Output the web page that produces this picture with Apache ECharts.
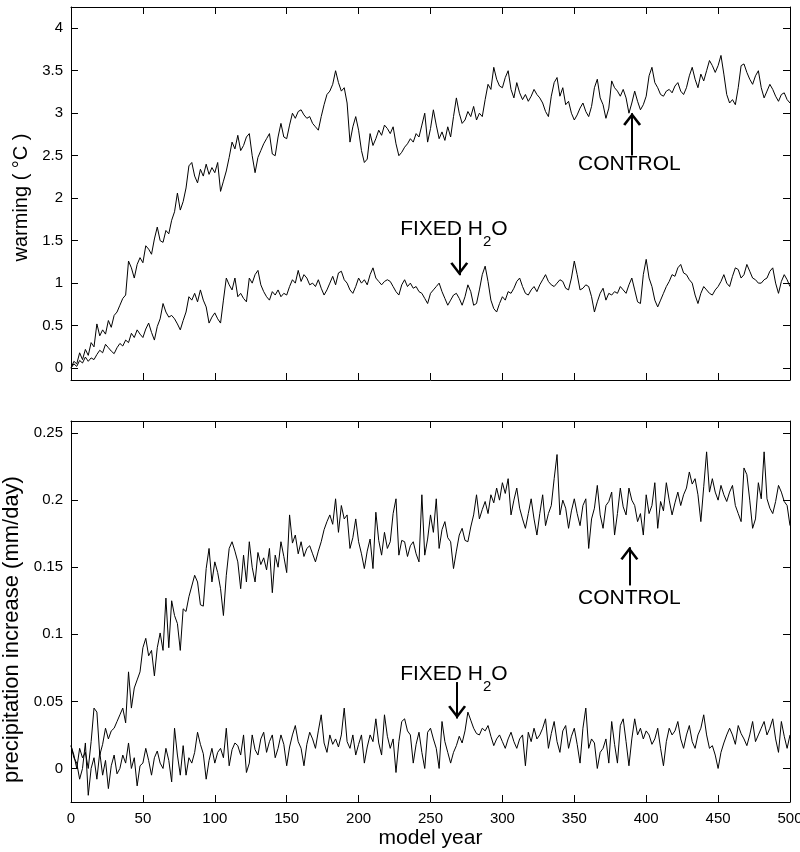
<!DOCTYPE html>
<html><head><meta charset="utf-8">
<script src="https://cdn.jsdelivr.net/npm/echarts@6/dist/echarts.min.js"></script>
<style>html,body{margin:0;padding:0;background:#fff}#c{width:800px;height:852px}</style>
</head><body><div id="c"></div>
<script>
// ---- data (one value every 2 model years, year 0..500) ----
const yearStep = 2;
const yearTicks = [0,50,100,150,200,250,300,350,400,450,500];
const warmTicks = [0,0.5,1,1.5,2,2.5,3,3.5,4];
const precipTicks = [0,0.05,0.1,0.15,0.2,0.25];

const warmControl = [
0.00,0.08,0.05,0.18,0.10,0.22,0.15,0.30,0.25,0.52,
0.38,0.45,0.40,0.56,0.48,0.62,0.66,0.74,0.82,0.86,
1.26,1.18,1.06,1.22,1.30,1.24,1.44,1.40,1.34,1.52,
1.66,1.50,1.48,1.62,1.58,1.74,1.84,2.06,1.86,1.96,
2.12,2.38,2.42,2.26,2.18,2.34,2.26,2.40,2.28,2.36,
2.30,2.42,2.08,2.20,2.32,2.48,2.66,2.58,2.74,2.56,
2.62,2.72,2.76,2.50,2.30,2.48,2.56,2.64,2.70,2.76,
2.52,2.50,2.72,2.88,2.72,2.70,2.86,3.00,2.94,3.02,
3.04,2.98,2.94,2.96,2.88,2.84,2.80,2.96,3.10,3.22,
3.26,3.34,3.50,3.36,3.26,3.30,3.12,2.66,2.84,2.96,
2.80,2.56,2.42,2.46,2.76,2.62,2.70,2.80,2.74,2.86,
2.82,2.76,2.84,2.64,2.50,2.54,2.60,2.64,2.70,2.66,
2.76,2.72,2.86,3.00,2.66,2.82,3.04,2.86,2.70,2.78,
2.68,2.84,2.72,2.96,3.18,3.00,2.88,2.92,3.02,2.96,
3.08,2.92,3.00,2.96,3.16,3.34,3.28,3.54,3.40,3.32,
3.30,3.42,3.50,3.28,3.18,3.36,3.24,3.16,3.22,3.14,
3.20,3.28,3.22,3.18,3.12,3.02,2.96,3.20,3.36,3.42,
3.20,3.30,3.10,3.14,3.00,2.92,2.98,3.06,3.12,3.02,
2.96,3.08,3.30,3.40,3.18,3.10,2.94,3.06,3.38,3.30,
3.26,3.20,3.28,3.18,3.00,3.12,3.26,3.14,3.04,3.10,
3.20,3.44,3.54,3.36,3.30,3.22,3.20,3.26,3.28,3.24,
3.32,3.36,3.26,3.22,3.30,3.44,3.54,3.40,3.30,3.46,
3.38,3.50,3.62,3.56,3.48,3.56,3.68,3.46,3.22,3.12,
3.16,3.10,3.30,3.56,3.58,3.48,3.40,3.34,3.44,3.50,
3.30,3.18,3.26,3.34,3.28,3.20,3.14,3.22,3.24,3.16,
3.12];

const warmFixed = [
0.00,0.05,0.02,0.09,0.06,0.13,0.08,0.12,0.10,0.16,
0.21,0.18,0.28,0.24,0.20,0.17,0.24,0.29,0.26,0.33,
0.30,0.41,0.36,0.45,0.40,0.36,0.46,0.53,0.42,0.33,
0.49,0.58,0.76,0.66,0.60,0.62,0.58,0.52,0.45,0.56,
0.66,0.84,0.80,0.88,0.78,0.92,0.80,0.72,0.53,0.60,
0.65,0.58,0.53,0.80,1.06,0.98,0.92,1.06,0.84,0.88,
0.82,0.78,1.06,1.00,1.10,1.15,0.98,0.90,0.84,0.80,
0.90,0.86,0.92,0.84,0.88,0.86,0.96,1.04,1.00,1.15,
1.02,1.10,1.06,0.98,1.00,0.96,1.04,0.94,0.86,0.92,
1.00,1.08,0.98,1.12,1.14,1.04,1.00,0.92,0.88,0.96,
1.06,1.00,1.04,0.98,1.10,1.18,1.06,1.02,0.98,1.02,
1.04,1.02,0.96,0.90,0.86,0.98,1.04,0.96,1.00,0.94,
0.96,0.90,0.88,0.82,0.76,0.88,0.92,0.96,1.00,0.90,
0.82,0.74,0.80,0.86,0.88,0.82,0.74,0.84,0.98,0.90,
0.74,0.76,0.92,1.10,1.20,1.02,0.80,0.70,0.66,0.76,
0.84,0.80,0.90,0.88,0.94,1.02,1.06,0.96,0.88,0.86,
0.92,0.96,0.90,0.98,1.04,1.10,1.02,0.98,0.96,1.00,
1.04,1.02,0.94,0.92,1.06,1.26,1.10,0.92,0.94,0.98,
0.96,0.84,0.66,0.78,0.88,0.94,0.80,0.88,0.86,0.90,
0.88,0.96,0.92,0.88,0.98,1.06,0.92,0.78,0.76,1.10,
1.28,1.06,0.96,0.80,0.72,0.80,0.88,0.96,1.02,1.10,
1.08,1.18,1.22,1.12,1.10,1.04,1.00,0.86,0.76,0.88,
0.96,0.92,0.88,0.86,0.92,0.96,1.02,1.10,1.00,0.96,
1.08,1.18,1.16,1.06,1.10,1.22,1.14,1.06,1.04,1.00,
1.00,1.04,1.06,1.14,1.18,1.00,0.88,1.02,1.10,1.04,
0.96];

const precipControl = [
0.017,0.010,0.000,0.015,0.008,0.012,0.000,0.020,0.045,0.042,
0.010,0.018,0.030,0.022,0.028,0.030,0.035,0.040,0.045,0.034,
0.072,0.045,0.060,0.066,0.072,0.090,0.097,0.084,0.088,0.069,
0.090,0.101,0.088,0.127,0.090,0.125,0.114,0.108,0.088,0.119,
0.117,0.128,0.136,0.144,0.139,0.122,0.121,0.149,0.164,0.139,
0.154,0.146,0.134,0.114,0.144,0.164,0.169,0.162,0.154,0.134,
0.159,0.139,0.169,0.150,0.139,0.161,0.152,0.157,0.148,0.164,
0.131,0.159,0.150,0.169,0.158,0.146,0.189,0.168,0.174,0.160,
0.169,0.158,0.164,0.166,0.160,0.154,0.162,0.169,0.178,0.184,
0.189,0.182,0.201,0.176,0.196,0.186,0.189,0.164,0.172,0.186,
0.169,0.160,0.149,0.162,0.171,0.149,0.191,0.170,0.159,0.176,
0.164,0.169,0.190,0.201,0.159,0.170,0.169,0.158,0.166,0.169,
0.160,0.154,0.204,0.159,0.171,0.189,0.176,0.201,0.164,0.178,
0.184,0.172,0.169,0.149,0.162,0.174,0.179,0.170,0.169,0.180,
0.189,0.204,0.186,0.193,0.199,0.190,0.204,0.198,0.209,0.200,
0.213,0.205,0.216,0.189,0.200,0.209,0.194,0.186,0.179,0.190,
0.201,0.186,0.174,0.190,0.204,0.181,0.190,0.196,0.216,0.234,
0.189,0.200,0.194,0.179,0.192,0.201,0.190,0.181,0.196,0.201,
0.164,0.186,0.194,0.211,0.189,0.179,0.196,0.199,0.206,0.174,
0.190,0.209,0.195,0.189,0.209,0.200,0.196,0.184,0.190,0.174,
0.204,0.190,0.196,0.213,0.179,0.199,0.192,0.213,0.200,0.189,
0.198,0.206,0.196,0.204,0.209,0.221,0.212,0.216,0.204,0.184,
0.210,0.236,0.206,0.216,0.206,0.200,0.211,0.204,0.199,0.206,
0.211,0.196,0.190,0.184,0.224,0.219,0.200,0.179,0.186,0.213,
0.201,0.236,0.201,0.194,0.190,0.199,0.211,0.206,0.199,0.196,
0.181];

const precipFixed = [
0.017,0.008,0.004,-0.008,0.000,0.019,-0.020,0.000,0.008,-0.008,
0.012,-0.005,0.006,-0.015,0.002,0.010,-0.004,0.000,0.010,0.004,
0.019,0.000,0.008,-0.013,0.002,0.004,0.015,0.006,-0.005,0.008,
0.013,0.004,0.000,0.015,0.006,-0.010,0.030,0.010,-0.005,0.017,
-0.005,0.008,0.004,0.012,0.027,0.018,0.011,-0.008,0.006,0.015,
0.004,0.012,0.015,0.008,0.030,0.002,0.014,0.019,0.017,0.010,
0.025,-0.003,0.004,0.025,0.014,0.010,0.022,0.027,0.012,0.020,
0.025,0.008,0.015,0.025,0.018,0.002,0.016,0.025,0.032,0.020,
0.015,0.002,0.018,0.027,0.022,0.015,0.028,0.040,0.019,0.012,
0.025,0.018,0.022,0.016,0.025,0.045,0.020,0.015,0.025,0.010,
0.018,0.025,0.004,0.016,0.025,0.020,0.037,0.019,0.010,0.040,
0.024,0.015,0.022,-0.003,0.020,0.035,0.037,0.028,0.025,0.004,
0.018,0.027,0.012,0.000,0.027,0.030,0.022,0.015,0.000,0.035,
0.020,0.012,0.004,0.012,0.017,0.024,0.019,0.028,0.042,0.036,
0.030,0.026,0.025,0.030,0.028,0.032,0.024,0.017,0.022,0.025,
0.020,0.015,0.022,0.027,0.020,0.015,0.022,0.025,0.002,0.027,
0.020,0.030,0.022,0.025,0.030,0.037,0.015,0.026,0.035,0.020,
0.012,0.028,0.032,0.015,0.024,0.030,0.018,0.004,0.030,0.045,
0.015,0.022,0.019,0.000,0.012,0.015,0.022,0.004,0.035,0.018,
0.004,0.032,0.037,0.020,0.002,0.022,0.037,0.025,0.030,0.022,
0.028,0.025,0.018,0.022,0.030,0.015,0.002,0.020,0.030,0.025,
0.028,0.035,0.022,0.015,0.025,0.032,0.020,0.015,0.025,0.030,
0.040,0.025,0.015,0.017,0.010,0.000,0.012,0.019,0.025,0.030,
0.025,0.018,0.032,0.026,0.022,0.017,0.025,0.035,0.020,0.025,
0.030,0.035,0.025,0.030,0.037,0.022,0.012,0.035,0.024,0.015,
0.025];

// ---- chart ----
const FONT = '"Liberation Sans", Arial, Helvetica, sans-serif';
const pairs = arr => arr.map((v, i) => [i * yearStep, v]);
const CHEVRON = 'path://M50,0 L100,86 L88,96 L50,30 L12,96 L0,86 Z';

function xAx(grid, pos, showLabels) {
  return {
    type: 'value', gridIndex: grid, position: pos, min: 0, max: 500, interval: 50,
    axisLine: { show: true, onZero: false, lineStyle: { color: '#000', width: 1 } },
    axisTick: { show: true, inside: true, length: 7, lineStyle: { color: '#000' }, customValues: yearTicks },
    axisLabel: { show: showLabels, color: '#000', fontSize: 15, fontFamily: FONT, margin: 9, customValues: yearTicks },
    splitLine: { show: false },
    name: showLabels ? 'model year' : '', nameLocation: 'middle', nameGap: 26,
    nameTextStyle: { color: '#000', fontSize: 21, fontFamily: FONT }
  };
}
function yAx(grid, pos, min, max, ticks, showLabels, name, nameSize, namePad) {
  return {
    type: 'value', gridIndex: grid, position: pos, min: min, max: max,
    axisLine: { show: true, onZero: false, lineStyle: { color: '#000', width: 1 } },
    axisTick: { show: true, inside: true, length: 7, lineStyle: { color: '#000' }, customValues: ticks },
    axisLabel: { show: showLabels, color: '#000', fontSize: 15, fontFamily: FONT, margin: 8, customValues: ticks },
    splitLine: { show: false },
    name: showLabels ? name : '', nameLocation: 'middle', nameGap: 23, nameRotate: 90,
    nameTextStyle: { color: '#000', fontSize: nameSize || 20, fontFamily: FONT, padding: namePad || 0 }
  };
}
// arrow: shaft from tail to tip, chevron head centred a little before the tip
function arrow(x, yTail, yTip, yHead) {
  return {
    silent: true, animation: false, symbol: ['none', 'none'], symbolSize: [18, 13],
    lineStyle: { color: '#000', width: 2, type: 'solid' }, label: { show: false },
    emphasis: { disabled: true },
    data: [
      [{ coord: [x, yTail] }, { coord: [x, yTip] }],
      [{ coord: [x, yTail], symbol: 'none' }, { coord: [x, yHead], symbol: CHEVRON }]
    ]
  };
}
const labelRich = {
  a: { fontSize: 21, fontFamily: FONT, color: '#000', lineHeight: 40 },
  b: { fontSize: 15, fontFamily: FONT, color: '#000', lineHeight: 40, verticalAlign: 'bottom' }
};
function textMark(x, y, fmt) {
  return {
    silent: true, animation: false, symbol: 'circle', symbolSize: 0,
    itemStyle: { color: 'transparent' },
    label: { show: true, position: 'inside', formatter: fmt, rich: labelRich },
    data: [{ coord: [x, y] }]
  };
}
function lineSeries(arr, axIdx, extra) {
  return Object.assign({
    type: 'line', data: pairs(arr), xAxisIndex: axIdx, yAxisIndex: axIdx,
    showSymbol: false, symbol: 'none', silent: true, animation: false,
    lineStyle: { color: '#000', width: 1 }, emphasis: { disabled: true }
  }, extra);
}

const chart = echarts.init(document.getElementById('c'), null, { renderer: 'canvas' });
chart.setOption({
  backgroundColor: '#fff',
  animation: false,
  grid: [
    { left: 71, right: 10, top: 7, height: 373, containLabel: false, outerBoundsMode: 'none' },
    { left: 71, right: 10, top: 421, height: 381, containLabel: false, outerBoundsMode: 'none' }
  ],
  xAxis: [xAx(0, 'bottom', false), xAx(0, 'top', false), xAx(1, 'bottom', true), xAx(1, 'top', false)],
  yAxis: [
    yAx(0, 'left', -0.14, 4.25, warmTicks, true, 'warming ( °C )', 20, [0, 8, 0, 0]),
    yAx(0, 'right', -0.14, 4.25, warmTicks, false, ''),
    yAx(1, 'left', -0.025, 0.259, precipTicks, true, 'precipitation increase (mm/day)', 22, [0, 36, 0, 0]),
    yAx(1, 'right', -0.025, 0.259, precipTicks, false, '')
  ],
  series: [
    lineSeries(warmControl, 0, { markLine: arrow(390.2, 2.506, 3.0, 2.93), markPoint: textMark(388.3, 2.40, '{a|CONTROL}') }),
    lineSeries(warmFixed, 0, { markLine: arrow(270, 1.541, 1.094, 1.17), markPoint: textMark(266.3, 1.635, '{a|FIXED H}{b|2}{a|O}') }),
    lineSeries(precipControl, 2, { markLine: arrow(388.3, 0.1365, 0.1649, 0.1602), markPoint: textMark(388.3, 0.1272, '{a|CONTROL}') }),
    lineSeries(precipFixed, 2, { markLine: arrow(268.5, 0.0642, 0.0373, 0.0421), markPoint: textMark(266.3, 0.0705, '{a|FIXED H}{b|2}{a|O}') })
  ]
});
</script></body></html>
